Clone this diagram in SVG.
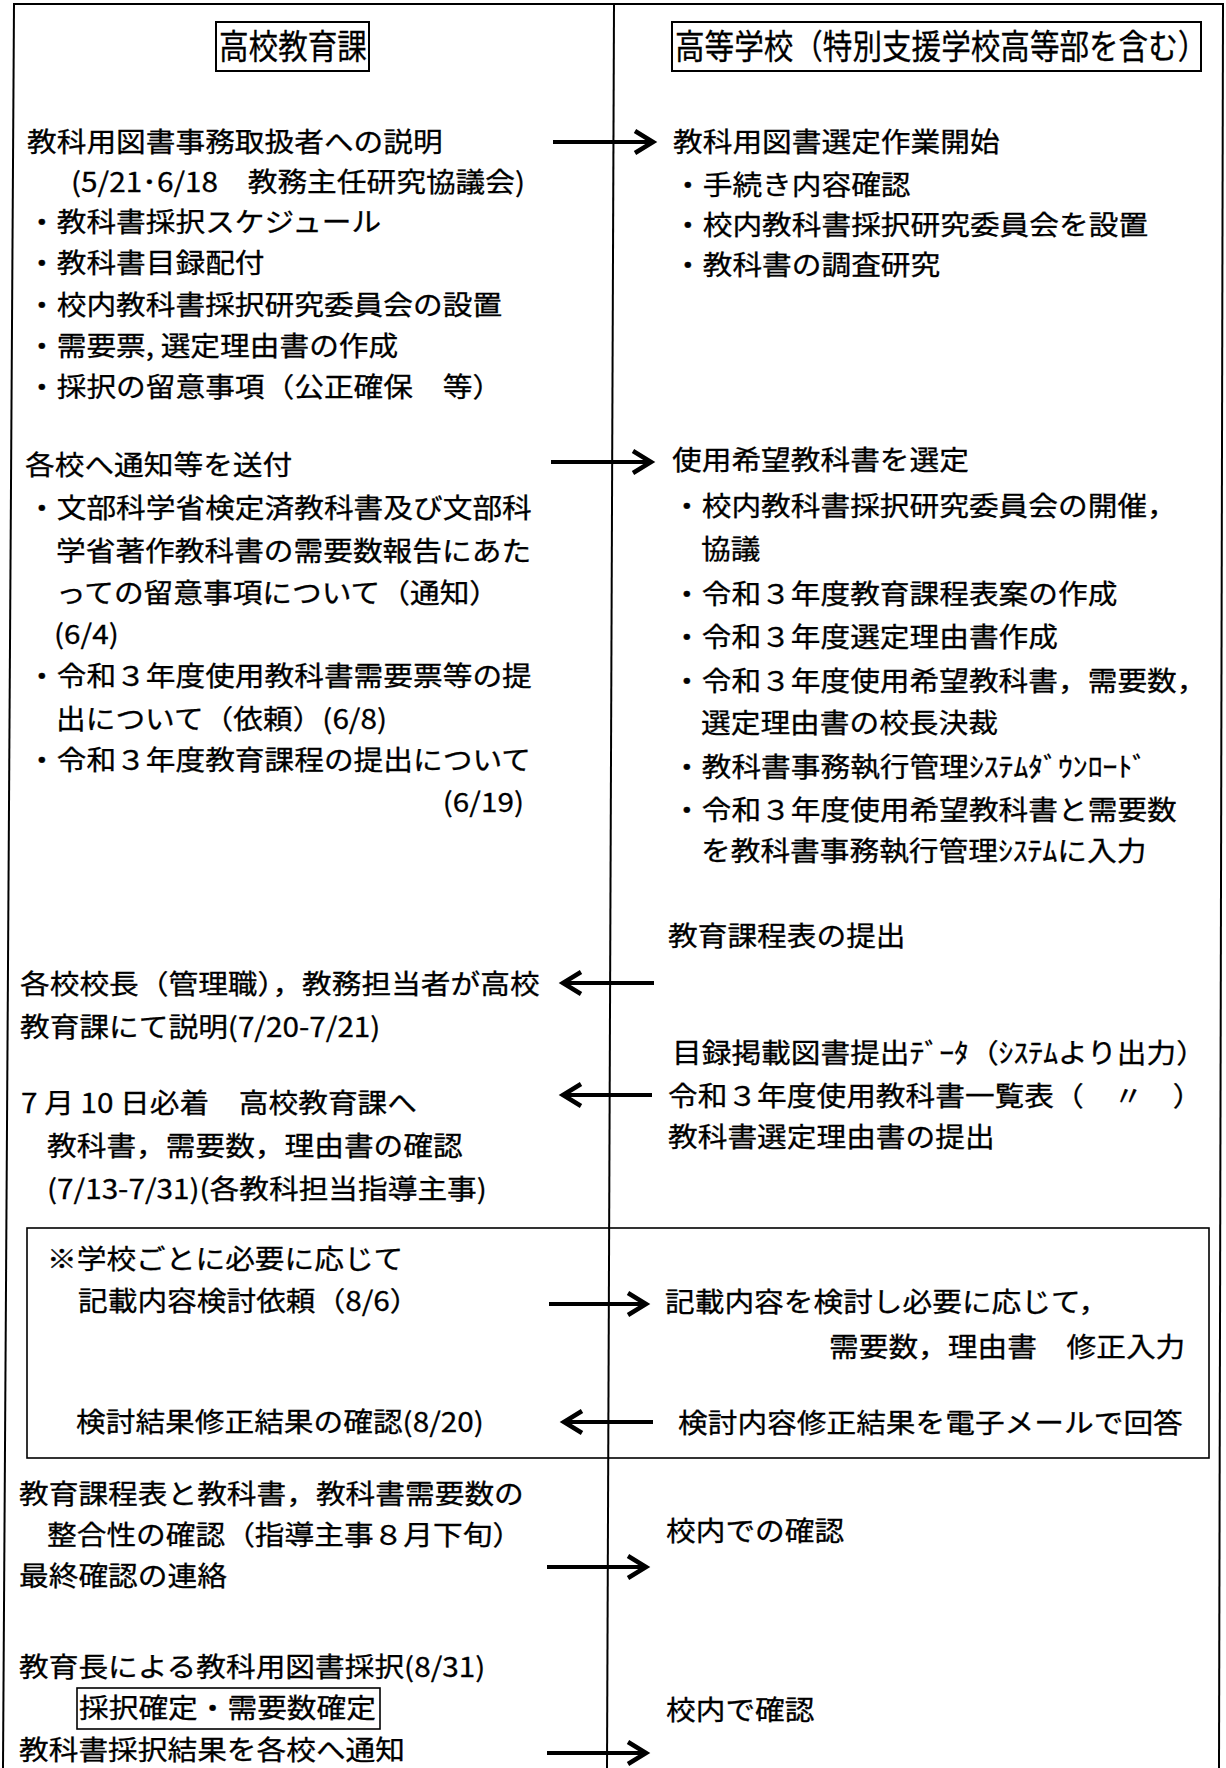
<svg xmlns="http://www.w3.org/2000/svg" width="1226" height="1768" viewBox="0 0 1226 1768">
<style>
text { font-family: "Noto Sans CJK JP", "Noto Sans", sans-serif; font-size: 27px; fill: #000; stroke: #000; stroke-width: 0.3px; }
.h { font-size: 34px; }
.end { text-anchor: end; }
.frame { stroke: #000; stroke-width: 2; fill: none; }
.box { stroke: #000; stroke-width: 1.6; fill: none; }
.hbox { stroke: #000; stroke-width: 2; fill: none; }
.arr { stroke: #000; stroke-width: 3.8; fill: none; marker-end: url(#ah); }
</style>
<defs>
<marker id="ah" markerUnits="userSpaceOnUse" markerWidth="32" markerHeight="32" refX="20" refY="12" orient="auto" overflow="visible">
<path d="M2,1 L20,12 L2,23" fill="none" stroke="#000" stroke-width="4.5" stroke-linejoin="miter"/>
</marker>
</defs>
<rect x="0" y="0" width="1226" height="1768" fill="#fff"/>
<g id="frame">
<line class="frame" x1="13" y1="4" x2="1224" y2="4"/>
<line class="frame" x1="14" y1="4" x2="3" y2="1768"/>
<line class="frame" x1="614" y1="4" x2="607" y2="1768"/>
<line class="frame" x1="1223" y1="4" x2="1219" y2="1768"/>
</g>
<g id="header-left">
<rect class="hbox" x="216" y="22" width="153" height="49"/>
<text class="h" transform="translate(219 59) scale(0.87 1)">高校教育課</text>
</g>
<g id="header-right">
<rect class="hbox" x="672" y="22" width="529" height="49"/>
<text class="h" transform="translate(675 59) scale(0.87 1)">高等学校（特別支援学校高等部を含む）</text>
</g>
<g id="left-1">
<text transform="translate(27 152) scale(1.1 1)">教科用図書事務取扱者への説明</text>
<text transform="translate(71 192) scale(1.1 1)">(5/21･6/18　教務主任研究協議会)</text>
<text transform="translate(27 232) scale(1.1 1)">・教科書採択スケジュール</text>
<text transform="translate(27 273) scale(1.1 1)">・教科書目録配付</text>
<text transform="translate(27 315) scale(1.1 1)">・校内教科書採択研究委員会の設置</text>
<text transform="translate(27 356) scale(1.1 1)">・需要票, 選定理由書の作成</text>
<text transform="translate(27 397) scale(1.1 1)">・採択の留意事項（公正確保　等）</text>
</g>
<g id="right-1">
<text transform="translate(673 152) scale(1.1 1)">教科用図書選定作業開始</text>
<text transform="translate(673 195) scale(1.1 1)">・手続き内容確認</text>
<text transform="translate(673 235) scale(1.1 1)">・校内教科書採択研究委員会を設置</text>
<text transform="translate(673 275) scale(1.1 1)">・教科書の調査研究</text>
</g>
<g id="left-2">
<text transform="translate(25 475) scale(1.1 1)">各校へ通知等を送付</text>
<text transform="translate(27 518) scale(1.1 1)">・文部科学省検定済教科書及び文部科</text>
<text transform="translate(56 561) scale(1.1 1)">学省著作教科書の需要数報告にあた</text>
<text transform="translate(56 603) scale(1.1 1)">っての留意事項について（通知）</text>
<text transform="translate(54 644) scale(1.1 1)">(6/4)</text>
<text transform="translate(27 686) scale(1.1 1)">・令和３年度使用教科書需要票等の提</text>
<text transform="translate(56 729) scale(1.1 1)">出について（依頼）(6/8)</text>
<text transform="translate(27 770) scale(1.1 1)">・令和３年度教育課程の提出について</text>
<text class="end" transform="translate(524 812) scale(1.1 1)">(6/19)</text>
</g>
<g id="right-2">
<text transform="translate(672 470) scale(1.1 1)">使用希望教科書を選定</text>
<text transform="translate(672 516) scale(1.1 1)">・校内教科書採択研究委員会の開催，</text>
<text transform="translate(701 559) scale(1.1 1)">協議</text>
<text transform="translate(672 604) scale(1.1 1)">・令和３年度教育課程表案の作成</text>
<text transform="translate(672 647) scale(1.1 1)">・令和３年度選定理由書作成</text>
<text transform="translate(672 691) scale(1.1 1)">・令和３年度使用希望教科書，需要数，</text>
<text transform="translate(701 733) scale(1.1 1)">選定理由書の校長決裁</text>
<text transform="translate(672 777) scale(1.1 1)">・教科書事務執行管理ｼｽﾃﾑﾀﾞｳﾝﾛｰﾄﾞ</text>
<text transform="translate(672 820) scale(1.1 1)">・令和３年度使用希望教科書と需要数</text>
<text transform="translate(701 861) scale(1.1 1)">を教科書事務執行管理ｼｽﾃﾑに入力</text>
</g>
<g id="right-3a">
<text transform="translate(668 946) scale(1.1 1)">教育課程表の提出</text>
</g>
<g id="left-3a">
<text transform="translate(20 994) scale(1.1 1)">各校校長（管理職），教務担当者が高校</text>
<text transform="translate(20 1037) scale(1.1 1)">教育課にて説明(7/20-7/21)</text>
</g>
<g id="right-3b">
<text transform="translate(672 1063) scale(1.1 1)">目録掲載図書提出ﾃﾞｰﾀ（ｼｽﾃﾑより出力）</text>
<text transform="translate(668 1106) scale(1.1 1)">令和３年度使用教科書一覧表（　〃　）</text>
<text transform="translate(668 1147) scale(1.1 1)">教科書選定理由書の提出</text>
</g>
<g id="left-3b">
<text transform="translate(21 1113) scale(1.1 1)">7 月 10 日必着　高校教育課へ</text>
<text transform="translate(47 1156) scale(1.1 1)">教科書，需要数，理由書の確認</text>
<text transform="translate(47 1199) scale(1.1 1)">(7/13-7/31)(各教科担当指導主事)</text>
</g>
<g id="review-box">
<rect class="box" x="27" y="1228" width="1182" height="230"/>
<g id="left-4">
<text transform="translate(47 1269) scale(1.1 1)">※学校ごとに必要に応じて</text>
<text transform="translate(78 1311) scale(1.1 1)">記載内容検討依頼（8/6）</text>
<text transform="translate(76 1432) scale(1.1 1)">検討結果修正結果の確認(8/20)</text>
</g>
<g id="right-4">
<text transform="translate(665 1312) scale(1.1 1)">記載内容を検討し必要に応じて，</text>
<text transform="translate(829 1357) scale(1.1 1)">需要数，理由書　修正入力</text>
<text transform="translate(678 1433) scale(1.1 1)">検討内容修正結果を電子メールで回答</text>
</g>
</g>
<g id="left-5">
<text transform="translate(19 1504) scale(1.1 1)">教育課程表と教科書，教科書需要数の</text>
<text transform="translate(47 1545) scale(1.1 1)">整合性の確認（指導主事８月下旬）</text>
<text transform="translate(19 1586) scale(1.1 1)">最終確認の連絡</text>
</g>
<g id="right-5">
<text transform="translate(666 1541) scale(1.1 1)">校内での確認</text>
</g>
<g id="left-6">
<text transform="translate(19 1677) scale(1.1 1)">教育長による教科用図書採択(8/31)</text>
<rect class="box" x="77" y="1688" width="303" height="41"/>
<text transform="translate(79 1718) scale(1.1 1)">採択確定・需要数確定</text>
<text transform="translate(19 1760) scale(1.1 1)">教科書採択結果を各校へ通知</text>
</g>
<g id="right-6">
<text transform="translate(666 1720) scale(1.1 1)">校内で確認</text>
</g>
<g id="connectors">
<line class="arr" x1="553" y1="142" x2="653" y2="142"/>
<line class="arr" x1="551" y1="462" x2="651" y2="462"/>
<line class="arr" x1="654" y1="983" x2="563" y2="983"/>
<line class="arr" x1="652" y1="1095" x2="563" y2="1095"/>
<line class="arr" x1="549" y1="1304" x2="646" y2="1304"/>
<line class="arr" x1="653" y1="1422" x2="564" y2="1422"/>
<line class="arr" x1="547" y1="1567" x2="646" y2="1567"/>
<line class="arr" x1="547" y1="1753" x2="646" y2="1753"/>
</g>
</svg>
